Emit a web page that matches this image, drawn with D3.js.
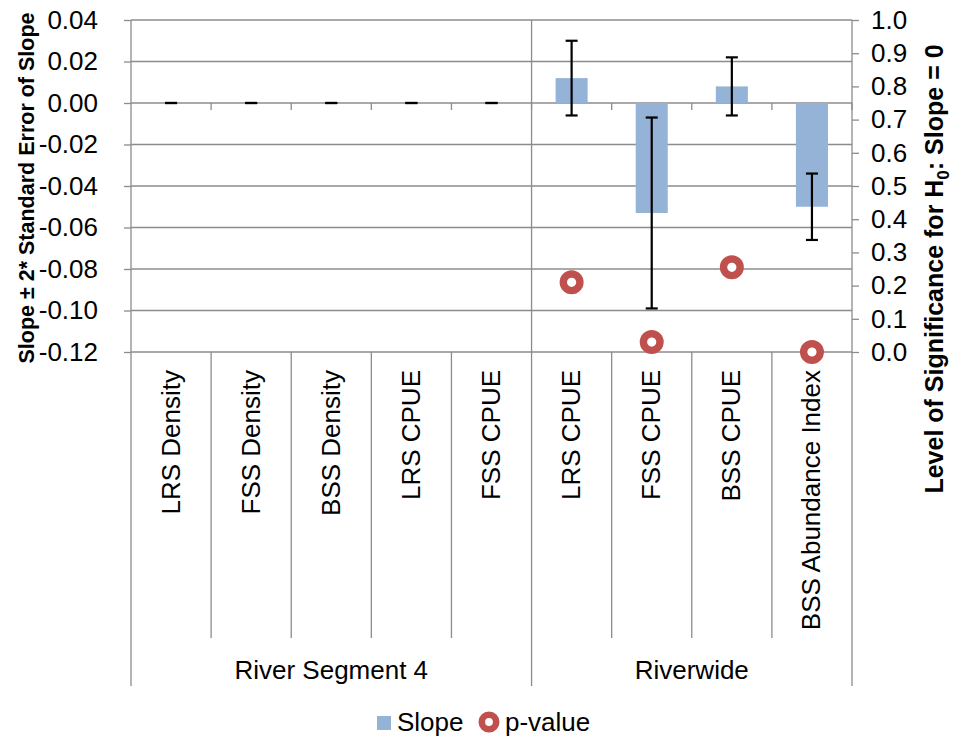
<!DOCTYPE html>
<html>
<head>
<meta charset="utf-8">
<script src="https://cdn.jsdelivr.net/npm/d3@7"></script>
<style>
  body { margin: 0; background: #fff; }
  svg { display: block; font-family: "Liberation Sans", Arial, sans-serif; }
</style>
</head>
<body>
<svg id="chart" width="953" height="738"></svg>
<script>
// Trend statistics per indicator
const categories = ["LRS Density", "FSS Density", "BSS Density", "LRS CPUE", "FSS CPUE",
                    "LRS CPUE", "FSS CPUE", "BSS CPUE", "BSS Abundance Index"];
const groups = ["River Segment 4", "Riverwide"];
const groupSizes = [5, 4];
const slope = [0, 0, 0, 0, 0, 0.012, -0.053, 0.008, -0.050];
const twoSE = [0, 0, 0, 0, 0, 0.018, 0.046, 0.014, 0.016];
const pValue = [null, null, null, null, null, 0.21, 0.03, 0.255, 0.0];
const leftTicks = [-0.12, -0.10, -0.08, -0.06, -0.04, -0.02, 0.00, 0.02, 0.04];
const leftTickLabels = ["-0.12", "-0.10", "-0.08", "-0.06", "-0.04", "-0.02", "0.00", "0.02", "0.04"];
const rightTicks = [0, 0.1, 0.2, 0.3, 0.4, 0.5, 0.6, 0.7, 0.8, 0.9, 1.0];
const rightTickLabels = ["0.0", "0.1", "0.2", "0.3", "0.4", "0.5", "0.6", "0.7", "0.8", "0.9", "1.0"];

const barColor = "#95b3d7";
const pColor = "#c0504d";
const gridColor = "#8c8c8c";
const fontSize = 26;

const svg = d3.select("#chart");
const L = 131, R = 852, T = 20, B = 352;

const idx = categories.map((d, i) => i);
const x = d3.scaleBand().domain(idx).range([L, R]).padding(0);
const y = d3.scaleLinear().domain([-0.12, 0.04]).range([B, T]);
const y2 = d3.scaleLinear().domain([0, 1]).range([B, T]);
const bw = x.bandwidth() * 0.4;
const cx = i => x(i) + x.bandwidth() / 2;

// horizontal gridlines
svg.append("g").selectAll("line").data(leftTicks).join("line")
  .attr("x1", L).attr("x2", R)
  .attr("y1", d => y(d)).attr("y2", d => y(d))
  .attr("stroke", gridColor).attr("stroke-width", 1.3);

// left value axis
const leftAxis = svg.append("g").attr("transform", `translate(${L},0)`)
  .call(d3.axisLeft(y).tickValues(leftTicks).tickSize(7).tickPadding(26)
    .tickFormat((d, i) => leftTickLabels[i]));
leftAxis.select(".domain").remove();
leftAxis.selectAll(".tick line").attr("stroke", gridColor).attr("stroke-width", 1.3);
leftAxis.selectAll(".tick text").attr("font-size", fontSize).attr("fill", "#000")
  .attr("font-family", "Liberation Sans, Arial, sans-serif");

// right value axis (p-values)
const rightAxis = svg.append("g").attr("transform", `translate(${R},0)`)
  .call(d3.axisRight(y2).tickValues(rightTicks).tickSize(7).tickPadding(12)
    .tickFormat((d, i) => rightTickLabels[i]));
rightAxis.select(".domain").remove();
rightAxis.selectAll(".tick line").attr("stroke", gridColor).attr("stroke-width", 1.3);
rightAxis.selectAll(".tick text").attr("font-size", fontSize).attr("fill", "#000")
  .attr("font-family", "Liberation Sans, Arial, sans-serif");

// category tick marks on the zero line
const bounds = d3.range(categories.length + 1).map(i => i < categories.length ? x(i) : R);
svg.append("g").selectAll("line").data(bounds.slice(1)).join("line")
  .attr("x1", d => d).attr("x2", d => d)
  .attr("y1", y(0)).attr("y2", y(0) + 7)
  .attr("stroke", gridColor).attr("stroke-width", 1.3);

// label-area dividers: inner ones between categories, outer ones at group edges
const groupEdges = [0];
groupSizes.forEach(n => groupEdges.push(groupEdges[groupEdges.length - 1] + n));
const edgeX = groupEdges.map(k => bounds[k]);
const innerX = bounds.filter((b, k) => !groupEdges.includes(k));
svg.append("g").selectAll("line").data(innerX).join("line")
  .attr("x1", d => d).attr("x2", d => d).attr("y1", B).attr("y2", 638)
  .attr("stroke", gridColor).attr("stroke-width", 1.3);
svg.append("g").selectAll("line").data(edgeX).join("line")
  .attr("x1", d => d).attr("x2", d => d).attr("y1", T).attr("y2", 686)
  .attr("stroke", gridColor).attr("stroke-width", 1.3);

// bars
svg.append("g").selectAll("rect").data(idx.filter(i => slope[i] !== 0)).join("rect")
  .attr("x", i => cx(i) - bw / 2).attr("width", bw)
  .attr("y", i => y(Math.max(0, slope[i])))
  .attr("height", i => Math.abs(y(slope[i]) - y(0)))
  .attr("fill", barColor);

// error bars (slope ± 2 SE)
const eb = svg.append("g").attr("stroke", "#000").attr("stroke-width", 2.2);
idx.forEach(i => {
  const hi = y(slope[i] + twoSE[i]), lo = y(slope[i] - twoSE[i]), c = cx(i);
  eb.append("line").attr("x1", c).attr("x2", c).attr("y1", hi).attr("y2", lo);
  eb.append("line").attr("x1", c - 6).attr("x2", c + 6).attr("y1", hi).attr("y2", hi);
  eb.append("line").attr("x1", c - 6).attr("x2", c + 6).attr("y1", lo).attr("y2", lo);
});

// p-value markers
svg.append("g").selectAll("circle").data(idx.filter(i => pValue[i] !== null)).join("circle")
  .attr("cx", cx).attr("cy", i => y2(pValue[i])).attr("r", 8.3)
  .attr("fill", "#fff").attr("stroke", pColor).attr("stroke-width", 7.4);

// category labels
svg.append("g").selectAll("text").data(idx).join("text")
  .attr("transform", i => `translate(${cx(i) + 8.5},370) rotate(-90)`)
  .attr("text-anchor", "end").attr("font-size", fontSize)
  .text(i => categories[i]);

// group labels
svg.append("g").selectAll("text").data(groups).join("text")
  .attr("x", (g, k) => (edgeX[k] + edgeX[k + 1]) / 2).attr("y", 679)
  .attr("text-anchor", "middle").attr("font-size", fontSize)
  .text(g => g);

// axis titles
svg.append("text")
  .attr("transform", `translate(34,188) rotate(-90)`)
  .attr("text-anchor", "middle").attr("font-size", 21.5).attr("font-weight", "bold")
  .text("Slope ± 2* Standard Error of Slope");

const rt = svg.append("text")
  .attr("transform", `translate(943,269) rotate(-90)`)
  .attr("text-anchor", "middle").attr("font-size", 25).attr("font-weight", "bold");
rt.append("tspan").text("Level of Significance for H");
rt.append("tspan").attr("font-size", 17).attr("dy", 6).text("0");
rt.append("tspan").attr("dy", -6).text(": Slope = 0");

// legend
const lg = svg.append("g");
lg.append("rect").attr("x", 377).attr("y", 716).attr("width", 14).attr("height", 14).attr("fill", barColor);
lg.append("text").attr("x", 397).attr("y", 731).attr("font-size", fontSize).text("Slope");
lg.append("circle").attr("cx", 489).attr("cy", 722).attr("r", 7.2)
  .attr("fill", "#fff").attr("stroke", pColor).attr("stroke-width", 6.6);
lg.append("text").attr("x", 505).attr("y", 731).attr("font-size", fontSize).text("p-value");
</script>
</body>
</html>
